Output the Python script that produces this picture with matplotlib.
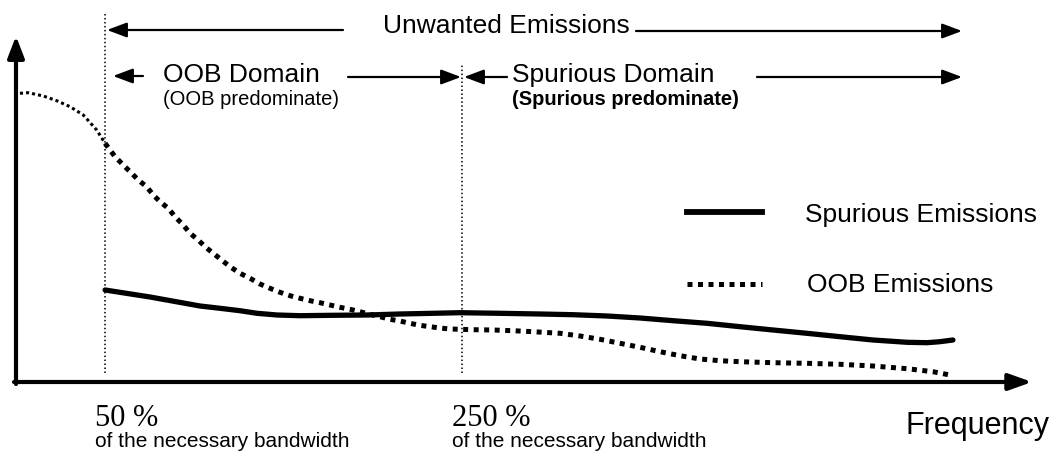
import numpy as np
import matplotlib.pyplot as plt
from matplotlib.lines import Line2D

# OOB emission curve: frequency in % of necessary bandwidth, relative level (arbitrary units)
oob_freq = [2.2, 6.9, 15.3, 22.8, 30.3, 37.7, 45.2, 49.9, 55.5, 60.1, 64.8, 68.5, 73.2, 76.9,
            80.7, 85.3, 89.1, 93.7, 97.5, 102.1, 105.9, 110.5, 115.2, 119.9, 125.5, 131.1,
            136.7, 142.3, 147.9, 153.5, 159.1, 164.7, 170.3, 175.9, 181.5, 187.1, 192.7,
            198.3, 203.9, 209.5, 215.1, 220.7, 226.3, 231.9, 237.5, 243.1, 248.7, 256.0,
            267.2, 278.4, 289.6, 304.8, 316.0, 327.2, 338.4, 349.6, 360.8, 372.0, 383.2,
            394.4, 405.6, 424.1, 443.1, 461.6, 480.1, 499.2, 513.7, 523.2]
oob_level = [288.7, 289.3, 286.0, 281.3, 275.3, 267.0, 252.0, 238.7, 225.3, 217.0, 208.7, 202.0,
             195.3, 187.0, 180.3, 173.7, 165.3, 157.0, 148.7, 142.0, 135.3, 128.7, 122.0, 115.3,
             108.7, 103.7, 98.0, 93.7, 89.7, 86.3, 83.7, 81.3, 79.3, 77.0, 74.7, 72.7, 70.3,
             67.7, 65.3, 62.7, 61.0, 58.7, 56.7, 55.3, 54.0, 53.0, 52.7, 52.3, 52.0, 51.3, 50.3,
             48.7, 46.0, 42.7, 38.7, 34.7, 30.3, 26.3, 23.0, 21.3, 20.3, 19.3, 18.7, 17.7,
             16.0, 13.3, 10.3, 7.0]

# Spurious emission curve
spur_freq = [49.9, 75.1, 103.1, 114.3, 125.5, 135.0, 146.2, 159.1, 177.6, 196.6, 215.1, 233.6,
             248.7, 271.1, 293.6, 312.0, 331.1, 349.6, 368.1, 387.1, 405.6, 424.1, 443.1,
             461.6, 480.1, 499.2, 510.4, 517.6, 524.9]
spur_level = [92.0, 85.0, 76.0, 73.7, 71.3, 68.7, 67.0, 66.3, 66.7, 67.0, 68.0, 68.7, 69.3, 68.7,
              68.0, 67.3, 66.0, 64.0, 61.3, 58.7, 55.3, 52.0, 48.7, 45.3, 42.0, 39.7, 39.3,
              40.3, 42.0]

# boundaries between the OOB and spurious domains
bounds = [50, 250]
bound_top = [369, 317]
bound_bottom = 9

W, H = 1058, 454
SANS = 'Liberation Sans'
SERIF = 'Liberation Serif'

fig = plt.figure(figsize=(W / 100, H / 100), dpi=100)
ax = fig.add_axes([0, 0, 1, 1])
# origin at pixel (16, 382), 1.785 px per % of bandwidth
ax.set_xlim(-16 / 1.785, (W - 16) / 1.785)
ax.set_ylim(382 - H, 382)
ax.axis('off')


def fp(x, y):
    # image pixel -> figure fraction
    return x / W, 1 - y / H


def arrow(tail, tip, lw=1.6, hl=1.2, hw=0.45, ms=10):
    ax.annotate('', xy=fp(*tip), xytext=fp(*tail), xycoords='figure fraction',
                textcoords='figure fraction',
                arrowprops=dict(arrowstyle='-|>,head_length=%g,head_width=%g' % (hl, hw),
                                mutation_scale=ms, lw=lw, color='black',
                                shrinkA=0, shrinkB=0))


# axes with arrow heads
arrow((16, 384), (16, 36), lw=3.0, hl=1.3, hw=0.5, ms=10)
arrow((14, 382), (1032, 382), lw=3.0, hl=1.4, hw=0.5, ms=10)

# domain boundaries
for b, top in zip(bounds, bound_top):
    ax.plot([b, b], [bound_bottom, top], color='black', lw=1.1, ls=(0, (1, 1.6)))

# curves: OOB is drawn finer inside the necessary bandwidth
oob_freq = np.array(oob_freq)
oob_level = np.array(oob_level)
inband = oob_freq <= 50
ax.plot(oob_freq[inband], oob_level[inband], color='black', lw=2.2, ls=(0, (1, 1)),
        dash_capstyle='butt')
ax.plot(oob_freq[~inband | (oob_freq == oob_freq[inband][-1])], oob_level[~inband | (oob_freq == oob_freq[inband][-1])],
        color='black', lw=3.6, ls=(0, (1, 1.1)), dash_capstyle='butt')
ax.plot(spur_freq, spur_level, color='black', lw=3.8, solid_capstyle='round')

# top annotation arrows
arrow((343, 30), (107, 30))
arrow((636, 31), (962, 31))
fig.text(*fp(383, 33), 'Unwanted Emissions', family=SANS, fontsize=19, va='baseline')

arrow((143, 76), (113, 76))
fig.text(*fp(163, 82), 'OOB Domain', family=SANS, fontsize=19, va='baseline')
fig.text(*fp(163, 105), '(OOB predominate)', family=SANS, fontsize=14.5, va='baseline')
arrow((348, 77), (461, 77))

arrow((507, 77), (464, 77))
fig.text(*fp(512, 82), 'Spurious Domain', family=SANS, fontsize=19, va='baseline')
fig.text(*fp(512, 105), '(Spurious predominate)', family=SANS, fontsize=14.5,
         fontweight='bold', va='baseline')
arrow((757, 77), (962, 77))

# legend
fig.add_artist(Line2D([687 / W, 762 / W], [1 - 212 / H, 1 - 212 / H], color='black', lw=4.2))
fig.text(*fp(805, 222), 'Spurious Emissions', family=SANS, fontsize=19, va='baseline')
fig.add_artist(Line2D([687 / W, 762 / W], [1 - 284 / H, 1 - 284 / H], color='black', lw=3.6,
                      ls=(0, (1, 1.1)), dash_capstyle='butt'))
fig.text(*fp(807, 292), 'OOB Emissions', family=SANS, fontsize=19, va='baseline')

# bottom labels
fig.text(*fp(95, 426), '50 %', family=SERIF, fontsize=22, va='baseline')
fig.text(*fp(95, 447), 'of the necessary bandwidth', family=SANS, fontsize=15, va='baseline')
fig.text(*fp(452, 426), '250 %', family=SERIF, fontsize=22, va='baseline')
fig.text(*fp(452, 447), 'of the necessary bandwidth', family=SANS, fontsize=15, va='baseline')
fig.text(*fp(905, 434), 'Frequency', family=SANS, fontsize=22, va='baseline')

fig.savefig('out.png', dpi=100)
